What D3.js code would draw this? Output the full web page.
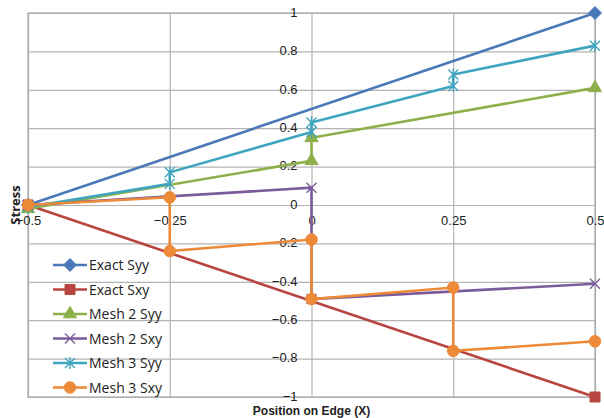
<!DOCTYPE html>
<html>
<head>
<meta charset="utf-8">
<script src="https://cdn.jsdelivr.net/npm/d3@7"></script>
<style>
  body { margin: 0; background: #fff; }
  svg { font-family: "Open Sans", "Noto Sans", sans-serif; }
  .tick text { font-size: 13px; fill: #222; }
</style>
</head>
<body>
<div id="chart"></div>
<script>
// values
const xTicks = [-0.5, -0.25, 0, 0.25, 0.5];
const yTicks = [-1, -0.8, -0.6, -0.4, -0.2, 0, 0.2, 0.4, 0.6, 0.8, 1];

const exactSyyX = [-0.5, 0.5];
const exactSyyY = [0, 1];
const exactSxyX = [-0.5, 0.5];
const exactSxyY = [0, -1];
const mesh2SyyX = [-0.5, 0, 0, 0.5];
const mesh2SyyY = [-0.02, 0.23, 0.35, 0.61];
const mesh2SxyX = [-0.5, 0, 0, 0.5];
const mesh2SxyY = [0, 0.09, -0.49, -0.41];
const mesh3SyyX = [-0.5, -0.25, -0.25, 0, 0, 0.25, 0.25, 0.5];
const mesh3SyyY = [-0.01, 0.11, 0.17, 0.38, 0.43, 0.62, 0.68, 0.83];
const mesh3SxyX = [-0.5, -0.25, -0.25, 0, 0, 0.25, 0.25, 0.5];
const mesh3SxyY = [0, 0.04, -0.24, -0.18, -0.49, -0.43, -0.76, -0.71];

const seriesNames = ["Exact Syy", "Exact Sxy", "Mesh 2 Syy", "Mesh 2 Sxy", "Mesh 3 Syy", "Mesh 3 Sxy"];
const seriesColors = ["#4a78b8", "#b8443f", "#8db04a", "#7a5c9c", "#3fa5bf", "#ec8a38"];
const seriesMarkers = ["diamond", "square", "triangle", "x", "asterisk", "circle"];

const series = [
    {x: exactSyyX, y: exactSyyY},
    {x: exactSxyX, y: exactSxyY},
    {x: mesh2SyyX, y: mesh2SyyY},
    {x: mesh2SxyX, y: mesh2SxyY},
    {x: mesh3SyyX, y: mesh3SyyY},
    {x: mesh3SxyX, y: mesh3SxyY}
].map((s, i) => ({
    name: seriesNames[i],
    color: seriesColors[i],
    marker: seriesMarkers[i],
    points: s.x.map((v, j) => ({x: v, y: s.y[j]}))
}));

const width = 604, height = 418;
const plot = {left: 28, right: 595, top: 13, bottom: 397};

const svg = d3.select("#chart").append("svg")
    .attr("width", width)
    .attr("height", height);

const xScale = d3.scaleLinear().domain([-0.5, 0.5]).range([plot.left, plot.right]);
const yScale = d3.scaleLinear().domain([-1, 1]).range([plot.bottom, plot.top]);

// gridlines
svg.append("g")
    .attr("transform", `translate(0,${plot.bottom})`)
    .call(d3.axisBottom(xScale).tickValues(xTicks).tickSize(-(plot.bottom - plot.top)).tickFormat(""))
    .call(g => g.select(".domain").remove())
    .call(g => g.selectAll("line").attr("stroke", "#b4b4b4").attr("stroke-width", 1.2));

svg.append("g")
    .attr("transform", `translate(${plot.left},0)`)
    .call(d3.axisLeft(yScale).tickValues(yTicks).tickSize(-(plot.right - plot.left)).tickFormat(""))
    .call(g => g.select(".domain").remove())
    .call(g => g.selectAll("line").attr("stroke", "#b4b4b4").attr("stroke-width", 1.2));

svg.append("rect")
    .attr("x", plot.left).attr("y", plot.top)
    .attr("width", plot.right - plot.left).attr("height", plot.bottom - plot.top)
    .attr("fill", "none").attr("stroke", "#a8a8a8").attr("stroke-width", 1.2);

// tick labels sit on the zero lines
svg.append("g")
    .attr("transform", `translate(${xScale(0)},0)`)
    .call(d3.axisLeft(yScale).tickValues(yTicks).tickSize(0).tickPadding(14).tickFormat(d3.format("")))
    .call(g => g.select(".domain").remove())
    .call(g => g.selectAll("text").attr("dy", "0.25em"));

svg.append("g")
    .attr("transform", `translate(0,${yScale(0)})`)
    .call(d3.axisBottom(xScale).tickValues(xTicks).tickSize(0).tickPadding(11).tickFormat(d3.format("")))
    .call(g => g.select(".domain").remove());

// axis titles
svg.append("text")
    .attr("transform", `translate(20,${yScale(0)}) rotate(-90)`)
    .attr("text-anchor", "middle")
    .style("font-size", "13px").style("font-weight", "bold").style("fill", "#222")
    .text("Stress");

svg.append("text")
    .attr("x", xScale(0)).attr("y", 415)
    .attr("text-anchor", "middle")
    .style("font-family", "'Liberation Sans', sans-serif")
    .style("font-size", "12px").style("font-weight", "bold").style("fill", "#222")
    .text("Position on Edge (X)");

// marker shapes
function markerPath(type) {
    if (type === "diamond") return "M0,-6.5L6.5,0L0,6.5L-6.5,0Z";
    if (type === "square") return d3.symbol(d3.symbolSquare, 100)();
    if (type === "triangle") return d3.symbol(d3.symbolTriangle, 75)();
    if (type === "circle") return d3.symbol(d3.symbolCircle, 105)();
    if (type === "x") return "M-5,-5L5,5M-5,5L5,-5";
    if (type === "asterisk") return "M-5,-5L5,5M-5,5L5,-5M0,-6L0,6";
    return "";
}

function drawMarker(sel, d) {
    const open = d.marker === "x" || d.marker === "asterisk";
    sel.append("path")
        .attr("d", markerPath(d.marker))
        .attr("fill", open ? "none" : d.color)
        .attr("stroke", d.color)
        .attr("stroke-width", open ? 1.4 : 1);
}

const line = d3.line().x(p => xScale(p.x)).y(p => yScale(p.y));

series.forEach(s => {
    const g = svg.append("g");
    g.append("path")
        .attr("d", line(s.points))
        .attr("fill", "none")
        .attr("stroke", s.color)
        .attr("stroke-width", 2.6);
    g.selectAll("g.marker").data(s.points).enter()
        .append("g").attr("class", "marker")
        .attr("transform", p => `translate(${xScale(p.x)},${yScale(p.y)})`)
        .each(function() { drawMarker(d3.select(this), s); });
});

// legend
const legend = svg.append("g").attr("transform", "translate(53,265)");
const legendItem = legend.selectAll("g").data(series).enter()
    .append("g")
    .attr("transform", (d, i) => `translate(0,${i * 24.5})`);

legendItem.append("line")
    .attr("x1", 0).attr("x2", 34)
    .attr("stroke", d => d.color)
    .attr("stroke-width", 2.6);

legendItem.append("g")
    .attr("transform", "translate(17,0)")
    .each(function(d) { drawMarker(d3.select(this), d); });

legendItem.append("text")
    .attr("x", 36).attr("y", 5)
    .style("font-size", "14px").style("fill", "#222")
    .text(d => d.name);
</script>
</body>
</html>
